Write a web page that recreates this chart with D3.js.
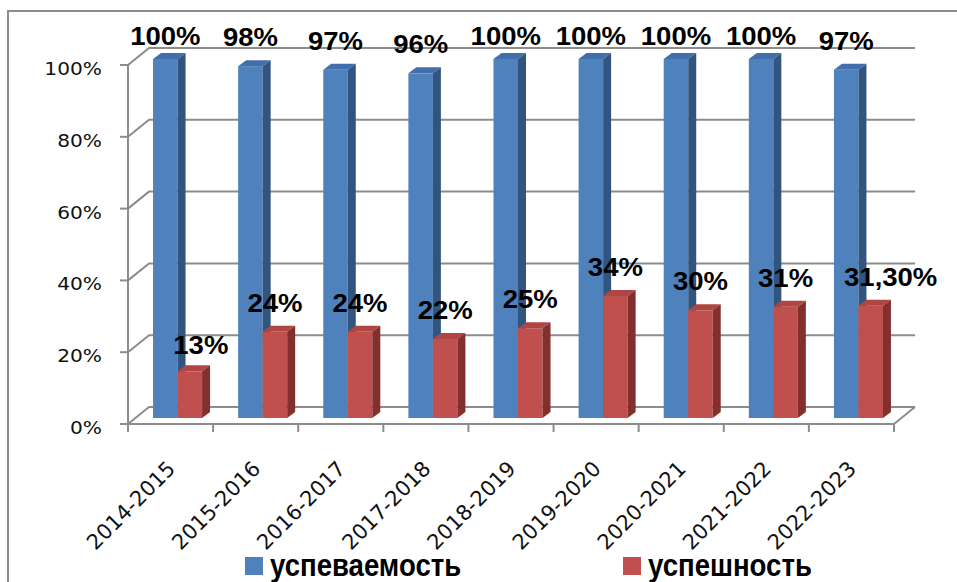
<!DOCTYPE html>
<html>
<head>
<meta charset="utf-8">
<script src="https://cdn.jsdelivr.net/npm/d3@7"></script>
<style>
body { margin: 0; background: #fff; }
svg { display: block; }
</style>
</head>
<body>
<div id="chart"></div>
<script>
// data
var years = ["2014-2015", "2015-2016", "2016-2017", "2017-2018", "2018-2019",
             "2019-2020", "2020-2021", "2021-2022", "2022-2023"];
var uspevaemost = [1.00, 0.98, 0.97, 0.96, 1.00, 1.00, 1.00, 1.00, 0.97];
var uspeshnost = [0.13, 0.24, 0.24, 0.22, 0.25, 0.34, 0.30, 0.31, 0.313];
var uspevaemostLabels = ["100%", "98%", "97%", "96%", "100%", "100%", "100%", "100%", "97%"];
var uspeshnostLabels = ["13%", "24%", "24%", "22%", "25%", "34%", "30%", "31%", "31,30%"];
var yTicks = [0, 0.2, 0.4, 0.6, 0.8, 1];
var seriesNames = ["успеваемость", "успешность"];

var svgWidth = 957;
var svgHeight = 582;

// plot area (front plane)
var plotLeft = 128, plotRight = 894, plotBottom = 424, plotTop = 65;
// depth of the 3d walls
var wallDx = 21, wallDy = -17;
// bars sit a bit inside the floor, and have their own depth
var posDx = 7, posDy = -6;
var barDx = 8, barDy = -6;

var colors = [
    {front: "#4f81bd", top: "#406fab", side: "#32557f"},
    {front: "#c0504d", top: "#b04643", side: "#832f2d"}
];
var gridColor = "#8c8c8c";

var svg = d3.select("#chart").append("svg")
    .attr("width", svgWidth)
    .attr("height", svgHeight);

// outer frame (only top and left visible)
svg.append("path")
    .attr("d", "M8," + svgHeight + "V11H" + svgWidth)
    .attr("fill", "none")
    .attr("stroke", "#8c8c8c")
    .attr("stroke-width", 2);

var xScale = d3.scaleBand().domain(years).range([plotLeft, plotRight]).padding(0);
var yScale = d3.scaleLinear().domain([0, 1]).range([plotBottom, plotTop]);

var grid = svg.append("g")
    .attr("fill", "none")
    .attr("stroke", gridColor)
    .attr("stroke-width", 2);

// back wall gridlines + diagonals on the side wall
yTicks.forEach(function (t) {
    var y = yScale(t);
    grid.append("path")
        .attr("d", "M" + plotLeft + "," + y + "L" + (plotLeft + wallDx) + "," + (y + wallDy) +
                   "H" + (plotRight + wallDx));
    // outer tick marks
    grid.append("line")
        .attr("x1", plotLeft - 8).attr("x2", plotLeft)
        .attr("y1", y).attr("y2", y);
});

// floor front edge and right diagonal
grid.append("path")
    .attr("d", "M" + plotLeft + "," + plotBottom + "H" + plotRight +
               "L" + (plotRight + wallDx) + "," + (plotBottom + wallDy));
// value axis line
grid.append("line")
    .attr("x1", plotLeft).attr("x2", plotLeft)
    .attr("y1", plotTop).attr("y2", plotBottom);

// category ticks
var tickXs = years.map(function (d) { return xScale(d); }).concat([plotRight]);
tickXs.forEach(function (x) {
    grid.append("line")
        .attr("x1", x).attr("x2", x)
        .attr("y1", plotBottom).attr("y2", plotBottom + 8);
});

// y tick labels
svg.append("g").selectAll("text")
    .data(yTicks)
    .enter()
    .append("text")
    .attr("transform", function (d) { return "translate(102," + (yScale(d) + 10) + ") scale(1.12,1)"; })
    .attr("text-anchor", "end")
    .attr("font-family", "'DejaVu Sans', Verdana, sans-serif")
    .attr("font-size", 18)
    .attr("fill", "#111")
    .text(function (d) { return Math.round(d * 100) + "%"; });

// x category labels
svg.append("g").selectAll("text")
    .data(years)
    .enter()
    .append("text")
    .attr("transform", function (d) {
        var cx = xScale(d) + xScale.bandwidth() / 2;
        return "translate(" + (cx + 6) + "," + (plotBottom + 46) + ") rotate(-45)";
    })
    .attr("text-anchor", "end")
    .attr("font-family", "'DejaVu Sans', Verdana, sans-serif")
    .attr("font-size", 21)
    .attr("fill", "#111")
    .text(function (d) { return d; });

// bars
var bw = xScale.bandwidth();
var barW = bw * 0.288;
var barOffset = (bw - 2 * barW) / 2;

function barX(i, s) {
    return xScale(years[i]) + barOffset + s * barW + posDx;
}

var series = [uspevaemost, uspeshnost];
var bars = svg.append("g");

years.forEach(function (year, i) {
    series.forEach(function (vals, s) {
        var x = barX(i, s);
        var yTop = yScale(vals[i]) + posDy;
        var yBase = yScale(0) + posDy;
        var c = colors[s];
        var g = bars.append("g");
        g.append("rect")
            .attr("x", x).attr("y", yTop)
            .attr("width", barW).attr("height", yBase - yTop)
            .attr("fill", c.front);
        g.append("path")
            .attr("d", "M" + x + "," + yTop + "L" + (x + barDx) + "," + (yTop + barDy) +
                       "H" + (x + barW + barDx) + "L" + (x + barW) + "," + yTop + "Z")
            .attr("fill", c.top);
        g.append("path")
            .attr("d", "M" + (x + barW) + "," + yTop + "L" + (x + barW + barDx) + "," + (yTop + barDy) +
                       "V" + (yBase + barDy) + "L" + (x + barW) + "," + yBase + "Z")
            .attr("fill", c.side);
    });
});

// data labels
var labels = svg.append("g")
    .attr("font-family", "'Liberation Sans', Arial, sans-serif")
    .attr("font-weight", "bold")
    .attr("font-size", 25)
    .attr("fill", "#000")
    .attr("text-anchor", "middle");

labels.selectAll(".lbl-a")
    .data(uspevaemost)
    .enter()
    .append("text")
    .attr("class", "lbl-a")
    .attr("transform", function (d, i) {
        var cx = barX(i, 0) + barW / 2;
        var y = Math.max(yScale(d) + posDy - 20, 45);
        return "translate(" + cx + "," + y + ") scale(1.1,1)";
    })
    .text(function (d, i) { return uspevaemostLabels[i]; });

labels.selectAll(".lbl-b")
    .data(uspeshnost)
    .enter()
    .append("text")
    .attr("class", "lbl-b")
    .attr("transform", function (d, i) {
        // first and last labels were nudged right in the original
        var nudge = i === 0 ? 11 : (i === years.length - 1 ? 20 : 0);
        var cx = barX(i, 1) + barW / 2 + nudge;
        var y = yScale(d) + posDy - 20 + (i === 0 ? 3 : 0);
        return "translate(" + cx + "," + y + ") scale(1.1,1)";
    })
    .text(function (d, i) { return uspeshnostLabels[i]; });

// legend
var legendX = [245, 623];
var legend = svg.append("g");
seriesNames.forEach(function (name, s) {
    legend.append("rect")
        .attr("x", legendX[s]).attr("y", 557)
        .attr("width", 18).attr("height", 18)
        .attr("fill", colors[s].front);
    legend.append("text")
        .attr("transform", "translate(" + (legendX[s] + 25) + ",576) scale(0.89,1)")
        .attr("font-family", "'Liberation Sans', Arial, sans-serif")
        .attr("font-weight", "bold")
        .attr("font-size", 31)
        .attr("fill", "#000")
        .text(name);
});
</script>
</body>
</html>
